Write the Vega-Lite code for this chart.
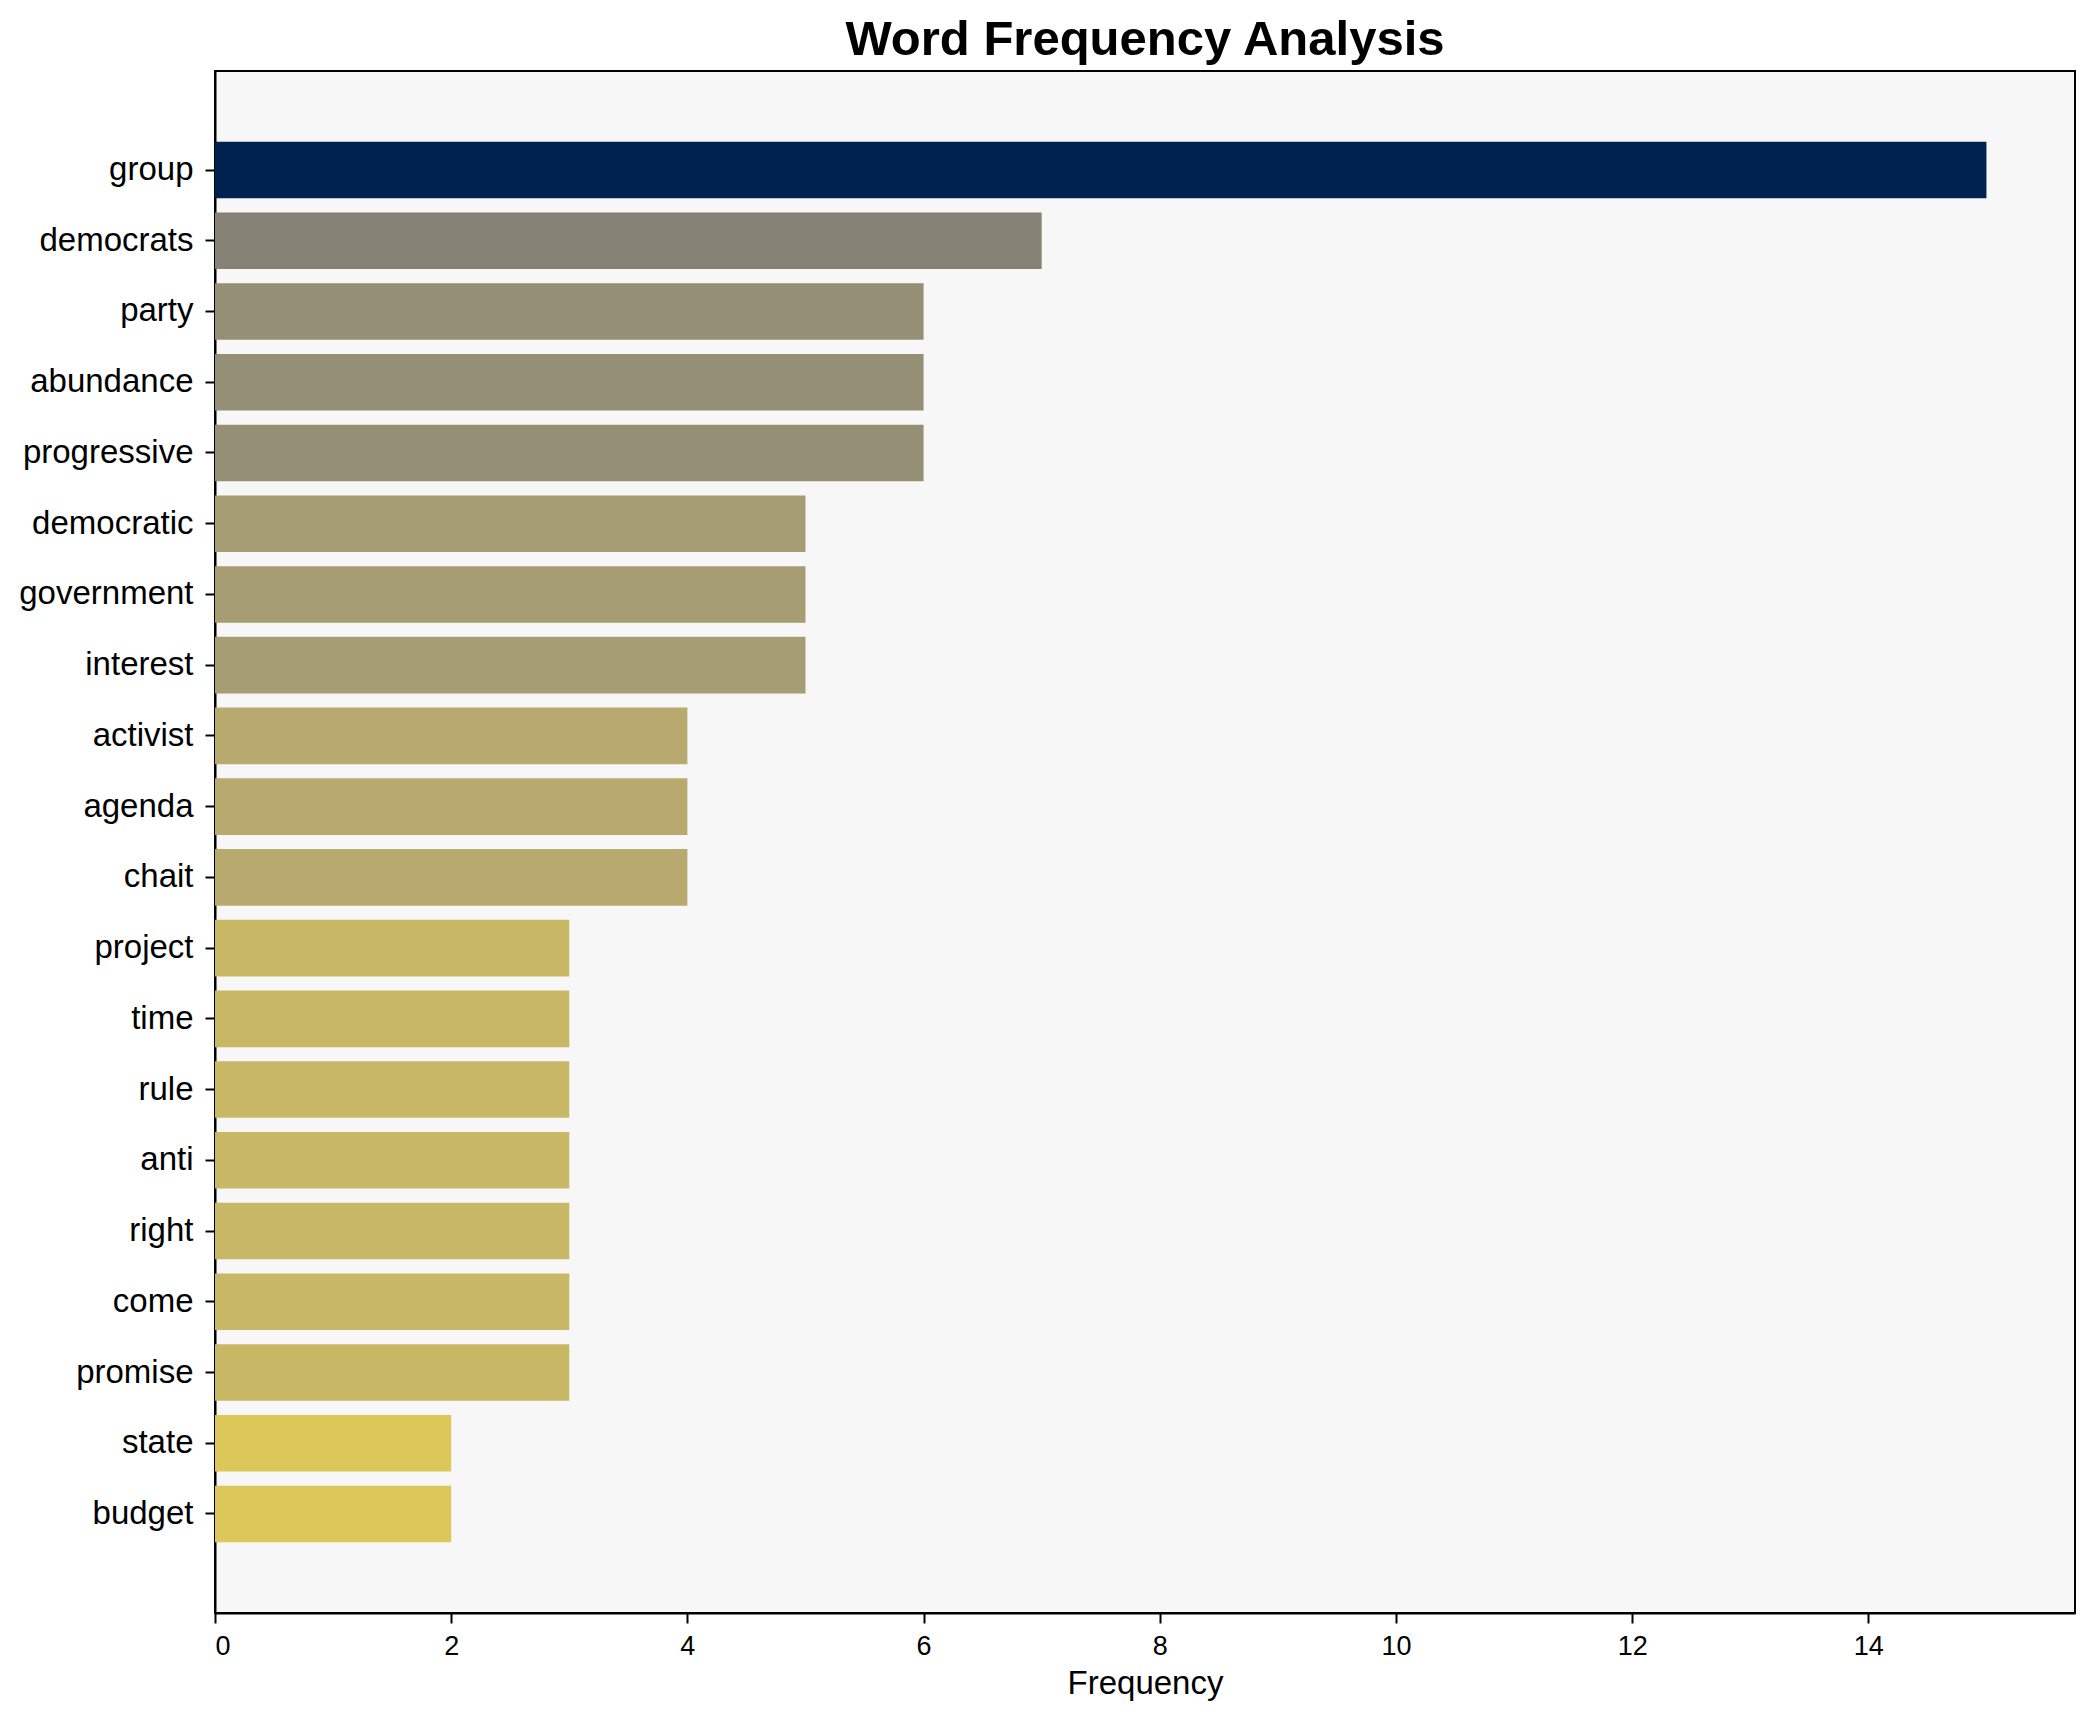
{
  "$schema": "https://vega.github.io/schema/vega-lite/v6.json",
  "autosize": {"type": "none"},
  "width": 1860,
  "height": 1542,
  "padding": {"left": 215, "top": 71, "right": 20, "bottom": 109},
  "background": "white",
  "title": {
    "text": "Word Frequency Analysis",
    "font": "Liberation Sans",
    "fontSize": 49,
    "fontWeight": "bold",
    "color": "black",
    "anchor": "middle",
    "offset": 6
  },
  "config": {
    "view": {"fill": "#f7f7f7", "stroke": "black", "strokeWidth": 2},
    "axis": {
      "labelFont": "Liberation Sans",
      "titleFont": "Liberation Sans",
      "labelColor": "black",
      "titleColor": "black",
      "domainColor": "black",
      "tickColor": "black",
      "domainWidth": 2,
      "tickWidth": 2,
      "grid": false
    }
  },
  "data": {
    "values": [
      {"word": "group", "frequency": 15},
      {"word": "democrats", "frequency": 7},
      {"word": "party", "frequency": 6},
      {"word": "abundance", "frequency": 6},
      {"word": "progressive", "frequency": 6},
      {"word": "democratic", "frequency": 5},
      {"word": "government", "frequency": 5},
      {"word": "interest", "frequency": 5},
      {"word": "activist", "frequency": 4},
      {"word": "agenda", "frequency": 4},
      {"word": "chait", "frequency": 4},
      {"word": "project", "frequency": 3},
      {"word": "time", "frequency": 3},
      {"word": "rule", "frequency": 3},
      {"word": "anti", "frequency": 3},
      {"word": "right", "frequency": 3},
      {"word": "come", "frequency": 3},
      {"word": "promise", "frequency": 3},
      {"word": "state", "frequency": 2},
      {"word": "budget", "frequency": 2}
    ]
  },
  "mark": {"type": "bar"},
  "encoding": {
    "y": {
      "field": "word",
      "type": "nominal",
      "sort": null,
      "scale": {"paddingInner": 0.2, "paddingOuter": 1.0},
      "axis": {
        "title": null,
        "labelFontSize": 33,
        "tickSize": 10,
        "labelPadding": 12
      }
    },
    "x": {
      "field": "frequency",
      "type": "quantitative",
      "scale": {"domain": [0, 15.75], "nice": false},
      "axis": {
        "title": "Frequency",
        "values": [0, 2, 4, 6, 8, 10, 12, 14],
        "labelFontSize": 27,
        "titleFontSize": 33,
        "titleFontWeight": "normal",
        "tickSize": 10,
        "labelPadding": 10,
        "titlePadding": 8
      }
    },
    "color": {
      "field": "frequency",
      "type": "ordinal",
      "legend": null,
      "scale": {
        "domain": [2, 3, 4, 5, 6, 7, 15],
        "range": ["#dcc75a", "#c8b866", "#b8a96e", "#a69d72", "#958f76", "#868276", "#00224e"]
      }
    }
  }
}
